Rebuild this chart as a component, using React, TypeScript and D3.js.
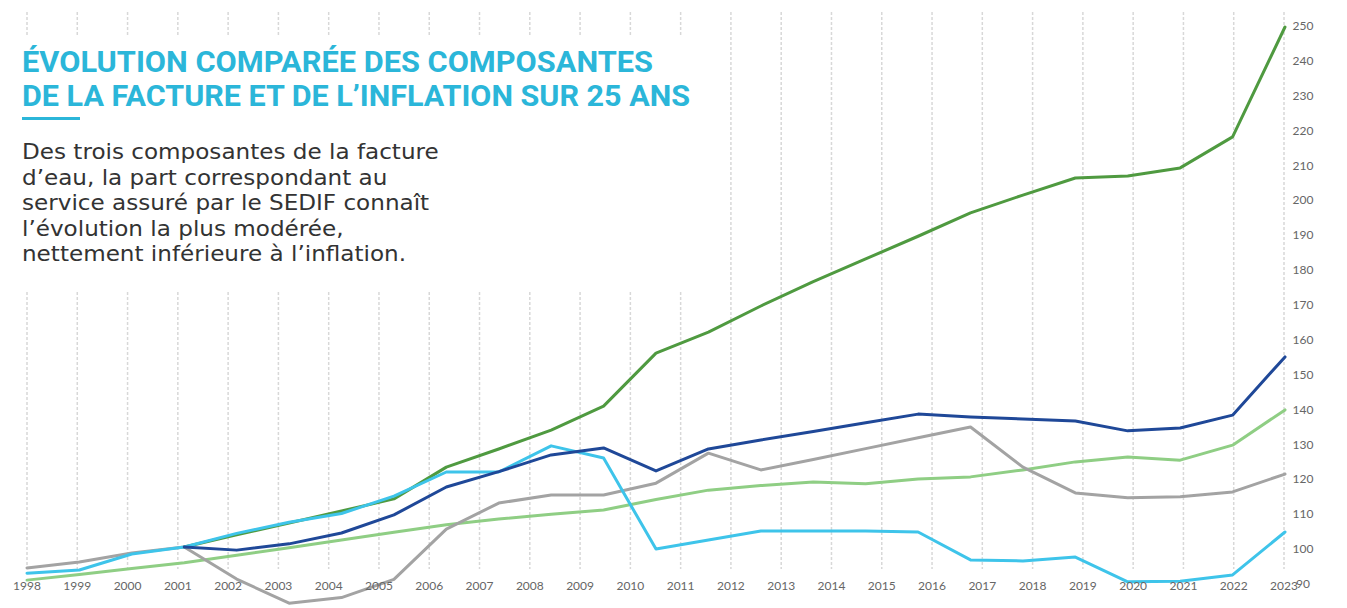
import React from "react";
import * as d3 from "d3";

const years = d3.range(1998, 2024).map(String);
const yTicks = d3.range(90, 251, 10);

// 25 measurement points spread over the period (index 0..24)
const steps = d3.range(0, 25);

const totalBill: (number | null)[] = [null, null, null, 100.9, 104.4, 107.8, 111.2, 114.7, 123.8, 129, 134.4, 141.3, 156.5, 162.5, 170, 177, 183.5, 190, 196.7, 201.8, 206.7, 207.3, 209.6, 218.5, 250];
const sedif: (number | null)[] = [null, null, null, 100.9, 100, 101.8, 104.9, 110.1, 118.1, 122.5, 127.3, 129.3, 122.7, 129, 131.6, 134, 136.5, 139, 138.2, 137.6, 137, 134.2, 135, 138.7, 155.4];
const inflation: number[] = [91.4, 93, 94.7, 96.4, 98.5, 100.7, 102.9, 105.1, 107.3, 108.9, 110.3, 111.5, 114.5, 117.2, 118.5, 119.5, 119, 120.4, 121, 123, 125.3, 126.7, 125.8, 130.1, 140.2];
const organismes: number[] = [94.9, 96.6, 99.2, 100.9, 91.7, 84.8, 86.4, 91.6, 106, 113.5, 115.8, 115.8, 119.2, 127.8, 123, 126, 129.1, 132.2, 135.3, 123.8, 116.4, 115, 115.3, 116.7, 121.8];
const collecte: number[] = [93.4, 94.3, 98.9, 100.9, 104.8, 108, 110.5, 115.5, 122.4, 122.4, 129.9, 126.4, 100.3, 102.9, 105.5, 105.5, 105.5, 105.2, 97.2, 96.9, 98, 90.9, 91.1, 92.9, 105.2];

const seriesList = [
  { name: "inflation", values: inflation, color: "#8fce84" },
  { name: "organismes", values: organismes, color: "#a3a3a3" },
  { name: "facture", values: totalBill, color: "#4f9a40" },
  { name: "collecte", values: collecte, color: "#3ec4ea" },
  { name: "sedif", values: sedif, color: "#1f4898" },
];

const titleLines = ["ÉVOLUTION COMPARÉE DES COMPOSANTES", "DE LA FACTURE ET DE L’INFLATION SUR 25 ANS"];
const bodyLines = [
  "Des trois composantes de la facture",
  "d’eau, la part correspondant au",
  "service assuré par le SEDIF connaît",
  "l’évolution la plus modérée,",
  "nettement inférieure à l’inflation.",
];

export default function App() {
  const W = 1347;
  const H = 608;
  const x = d3.scalePoint<string>().domain(years).range([27, 1284]);
  const xi = d3.scaleLinear().domain([0, 24]).range([27, 1285]);
  const y = d3.scaleLinear().domain([90, 250]).range([585, 27]);

  const line = d3
    .line<number | null>()
    .defined((d) => d !== null)
    .x((_, i) => xi(steps[i]))
    .y((d) => y(d as number));

  const sx = 1.1;

  return (
    <svg width={W} height={H} style={{ position: "absolute", left: 0, top: 0, background: "#fff" }}>
      <rect width={W} height={H} fill="#fff" />
      {years.map((yr) => (
        <line
          key={yr}
          x1={x(yr)}
          x2={x(yr)}
          y1={12}
          y2={569}
          stroke="#d8d8d8"
          strokeWidth={1.5}
          strokeDasharray="3 2"
        />
      ))}
      <rect x={0} y={36} width={700} height={254} fill="#fff" />
      {titleLines.map((t, i) => (
        <text
          key={t}
          x={22}
          y={72 + i * 34}
          fontFamily="Roboto, 'Noto Sans', sans-serif"
          fontWeight={700}
          fontSize={29}
          fill="#2bb6d9"
          textLength={i === 0 ? 631 : 668}
          lengthAdjust="spacingAndGlyphs"
        >
          {t}
        </text>
      ))}
      <rect x={22} y={117} width={58} height={3} fill="#2bb6d9" />
      <g transform={`scale(${sx},1)`}>
        {bodyLines.map((t, i) => (
          <text
            key={t}
            x={22 / sx}
            y={159 + i * 25.6}
            fontFamily="'DejaVu Sans', 'Noto Sans', sans-serif"
            fontSize={21}
            fill="#333333"
          >
            {t}
          </text>
        ))}
      </g>
      {seriesList.map((s) => (
        <path
          key={s.name}
          d={line(s.values) || ""}
          fill="none"
          stroke={s.color}
          strokeWidth={3}
          strokeLinejoin="round"
          strokeLinecap="round"
        />
      ))}
      {years.map((yr) => (
        <text
          key={"l" + yr}
          x={x(yr)}
          y={587}
          textAnchor="middle"
          dominantBaseline="middle"
          fontFamily="Lato, 'Noto Sans', sans-serif"
          fontSize={12}
          fill="#666666"
        >
          {yr}
        </text>
      ))}
      {yTicks.map((v) => (
        <text
          key={"t" + v}
          x={1303}
          y={y(v)}
          textAnchor="middle"
          dominantBaseline="middle"
          fontFamily="Lato, 'Noto Sans', sans-serif"
          fontSize={12}
          fill="#666666"
        >
          {v}
        </text>
      ))}
    </svg>
  );
}
